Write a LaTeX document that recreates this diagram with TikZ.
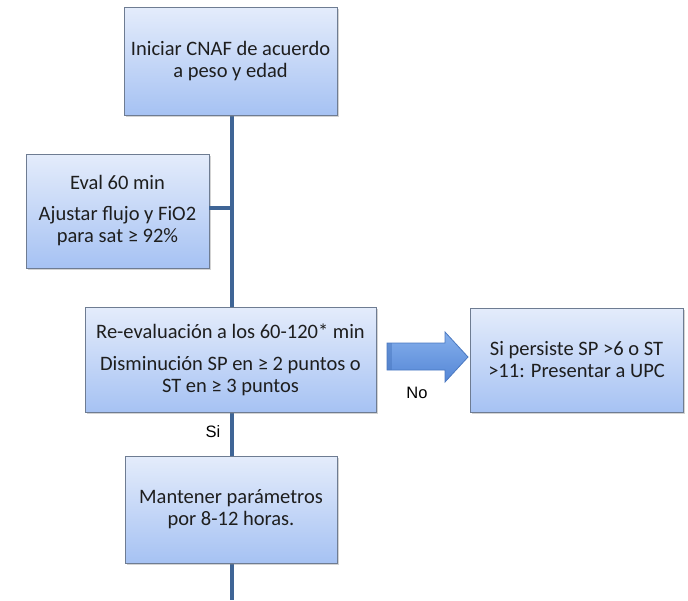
\documentclass[tikz,border=0pt]{standalone}
\usepackage{fontspec}
\setmainfont{Carlito}
\newfontfamily\arialfont{Liberation Sans}
\usetikzlibrary{shadows}
\definecolor{boxtop}{HTML}{E4ECFB}
\definecolor{boxbot}{HTML}{A6C2F3}
\definecolor{boxline}{HTML}{6E7C92}
\definecolor{spine}{HTML}{3F6596}
\definecolor{txt}{HTML}{1E1E1E}
\definecolor{arrtop}{HTML}{86B0EC}
\definecolor{arrbot}{HTML}{5486D6}
\definecolor{arrline}{HTML}{4A78C0}
\tikzset{
  x=1pt,y=-1pt,
  flowbox/.style={draw=boxline, line width=0.9pt, top color=boxtop, bottom color=boxbot,
    align=center, text=txt, font=\fontsize{20.5}{22}\selectfont, inner sep=0pt,
    drop shadow={opacity=0.35, shadow xshift=1.5pt, shadow yshift=-2pt}},
  spineline/.style={draw=spine, line width=4pt},
  lbl/.style={font=\arialfont\fontsize{16.5}{19}\selectfont, text=black, inner sep=0pt}
}
\begin{document}
\begin{tikzpicture}
\useasboundingbox (0,0) rectangle (688,600);
\coordinate (s2) at (232,208);
\coordinate (send) at (232,600);
% spine first
\draw[spineline] (232,110) -- (send);
\node[flowbox, minimum width=213pt, minimum height=108pt] (b1) at (230.5,61) {Iniciar CNAF de acuerdo\\a peso y edad};
\node[flowbox, minimum width=183pt, minimum height=114pt] (b2) at (117.5,211) {Eval 60 min\\[9pt]Ajustar flujo y FiO2\\para sat ≥ 92\%};
\node[flowbox, minimum width=291pt, minimum height=105pt] (b3) at (230.5,359.5) {Re-evaluación a los 60-120* min\\[10pt]Disminución SP en ≥ 2 puntos o\\ST en ≥ 3 puntos};
\node[flowbox, minimum width=213pt, minimum height=104pt] (b4) at (576.5,360) {Si persiste SP >6 o ST\\>11: Presentar a UPC};
\node[flowbox, minimum width=212pt, minimum height=107pt] (b5) at (231,509.5) {Mantener parámetros\\por 8-12 horas.};
% connectors
\draw[spineline] (b2.east |- s2) -- (s2);
% block arrow
\path[draw=arrline, line width=0.8pt, top color=arrtop, bottom color=arrbot]
  (387,343) -- (445,343) -- (445,332) -- (468,357) -- (445,382) -- (445,370) -- (387,370) -- cycle;
\fill[arrline, opacity=0.5] (387,343) rectangle (392,370);
\node[lbl] (no) at (417,393) {No};
\node[lbl] (si) at (213,432) {Si};
\end{tikzpicture}
\end{document}
